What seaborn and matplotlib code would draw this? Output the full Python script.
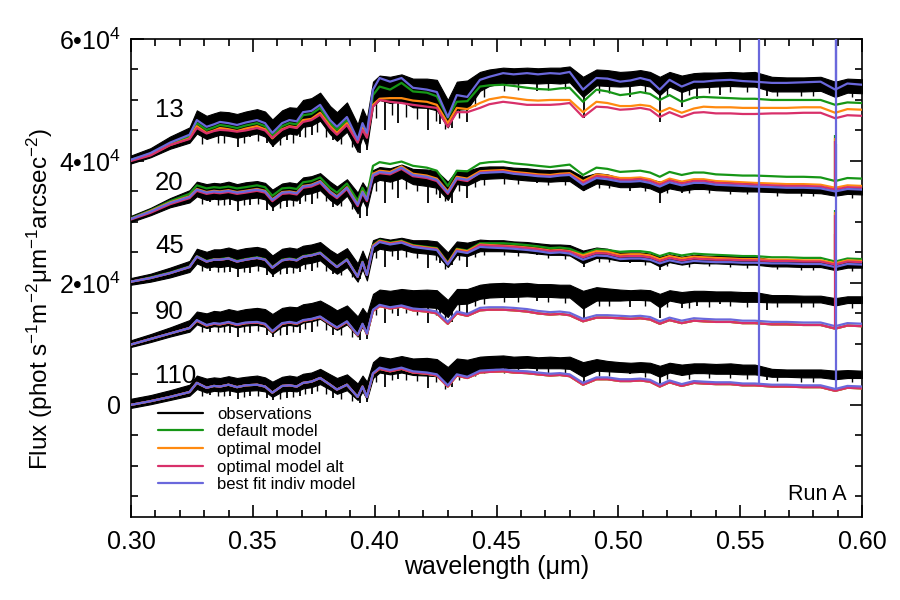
import numpy as np
import matplotlib
matplotlib.use("Agg")
import matplotlib.pyplot as plt
import seaborn as sns
from matplotlib.lines import Line2D
from matplotlib.ticker import MultipleLocator, FixedLocator, FixedFormatter

# ---------------- data (flux in units of 1e3 phot s-1 m-2 um-1 arcsec-2) ----------------
wl = [0.300, 0.308, 0.316, 0.324, 0.327, 0.331, 0.334, 0.3365, 0.340, 0.3435,
      0.347, 0.3517, 0.355, 0.358, 0.362, 0.365, 0.368, 0.3706, 0.374, 0.3776,
      0.3817, 0.3845, 0.3886, 0.393, 0.395, 0.3968, 0.3993, 0.402, 0.4063, 0.411,
      0.4157, 0.4214, 0.4255, 0.430, 0.4337, 0.438, 0.4432, 0.447, 0.4527, 0.457,
      0.4625, 0.467, 0.472, 0.476, 0.480, 0.4855, 0.491, 0.4955, 0.5007, 0.505,
      0.509, 0.513, 0.517, 0.521, 0.526, 0.531, 0.535, 0.540, 0.546, 0.551,
      0.556, 0.563, 0.569, 0.576, 0.583, 0.589, 0.594, 0.600]

# --- group 13 ---
best_13 = [40.2, 41.3, 43.0, 44.3, 46.7, 45.6, 46.0, 46.4, 46.2, 45.9, 46.3, 46.7, 46.2, 44.6, 46.2, 46.7, 46.5, 48.0, 48.2, 49.2,
           46.7, 45.6, 47.2, 43.5, 46.2, 44.6, 51.7, 53.6, 53.0, 53.6, 52.0, 51.7, 51.3, 47.2, 50.8, 50.5, 53.3, 53.8, 54.4, 54.2,
           54.4, 54.2, 54.4, 54.3, 54.6, 51.7, 53.6, 53.5, 53.0, 53.2, 53.6, 53.2, 51.7, 53.3, 52.2, 53.0, 53.0, 53.2, 53.3, 53.1,
           53.0, 52.8, 52.8, 52.9, 53.0, 51.7, 52.7, 52.5]
default_13 = [40.2, 41.2, 42.8, 44.0, 46.2, 45.1, 45.5, 45.9, 45.7, 45.4, 45.8, 46.2, 45.7, 44.1, 45.7, 46.2, 46.0, 47.5, 47.7, 48.7,
              46.2, 45.1, 46.7, 43.1, 45.7, 44.2, 50.8, 52.2, 51.7, 52.8, 51.4, 51.2, 50.6, 47.1, 49.7, 49.8, 52.2, 52.4, 52.5, 52.3,
              52.0, 51.8, 51.7, 51.9, 52.0, 49.7, 51.7, 51.4, 50.8, 51.0, 51.3, 51.0, 50.0, 50.8, 49.7, 50.4, 50.5, 50.4, 50.3, 50.2,
              50.2, 50.0, 50.0, 50.0, 50.0, 49.2, 49.6, 49.5]
optimal_13 = [40.1, 41.0, 42.6, 43.7, 45.7, 44.6, 45.0, 45.4, 45.2, 44.9, 45.3, 45.7, 45.2, 43.7, 45.2, 45.7, 45.5, 46.7, 46.9, 47.9,
              45.7, 44.6, 46.2, 43.2, 45.4, 44.0, 49.2, 50.2, 50.3, 50.3, 49.9, 49.7, 49.2, 46.2, 48.7, 48.5, 49.5, 50.1, 50.5, 50.3,
              50.0, 49.9, 50.0, 50.0, 50.0, 48.0, 49.7, 49.5, 49.0, 49.0, 49.2, 49.0, 48.0, 48.7, 47.9, 48.6, 48.9, 48.8, 48.8, 48.7,
              48.7, 48.7, 48.7, 48.8, 48.8, 47.9, 48.5, 48.4]
alt_13 = [40.0, 40.9, 42.6, 43.6, 45.4, 44.5, 44.9, 45.1, 45.0, 44.8, 45.0, 45.4, 45.0, 43.8, 45.1, 45.6, 45.4, 46.4, 46.7, 47.6,
          45.4, 44.3, 45.9, 43.0, 45.1, 43.8, 48.9, 50.0, 49.7, 49.5, 49.2, 48.9, 48.7, 45.6, 48.0, 48.0, 48.7, 49.3, 49.7, 49.5,
          49.2, 49.2, 49.2, 49.3, 49.5, 47.2, 48.9, 48.8, 48.4, 48.5, 48.7, 48.4, 47.2, 48.0, 47.2, 47.9, 48.0, 47.8, 47.8, 47.7,
          47.7, 47.8, 47.8, 47.9, 47.9, 47.0, 47.5, 47.4]
obs_hi_13 = [40.9, 42.1, 44.0, 45.5, 48.3, 47.4, 47.8, 48.1, 48.0, 47.7, 48.1, 48.5, 48.1, 46.8, 48.3, 48.8, 48.7, 50.0, 50.3, 51.2,
             49.0, 48.0, 49.6, 46.0, 48.6, 47.0, 53.0, 54.0, 53.8, 54.2, 53.5, 53.5, 53.3, 50.0, 53.0, 53.2, 54.6, 55.0, 55.3, 55.2,
             55.3, 55.2, 55.3, 55.3, 55.5, 53.8, 55.0, 54.9, 54.6, 54.7, 54.9, 54.6, 53.8, 54.6, 54.0, 54.4, 54.5, 54.5, 54.6, 54.5,
             54.6, 53.8, 53.7, 53.7, 53.8, 53.0, 53.5, 53.4]
obs_lo_13 = [39.6, 40.6, 42.0, 43.0, 44.5, 43.6, 44.0, 44.3, 44.1, 43.8, 44.1, 44.5, 44.0, 42.5, 44.0, 44.5, 44.3, 45.6, 45.8, 46.6,
             44.4, 43.3, 44.8, 41.5, 44.0, 42.3, 49.0, 50.0, 49.5, 49.8, 48.8, 48.7, 48.3, 45.5, 48.4, 48.5, 51.5, 52.3, 52.8, 52.7,
             52.8, 52.7, 52.8, 52.7, 52.9, 50.5, 52.4, 52.3, 52.2, 52.3, 52.5, 52.2, 50.8, 52.2, 51.3, 52.0, 52.1, 52.2, 52.3, 52.2,
             52.2, 51.4, 51.4, 51.4, 51.5, 50.5, 51.2, 51.1]

# --- group 20 ---
best_20 = [30.5, 31.7, 33.1, 34.1, 35.3, 34.8, 35.0, 34.9, 35.1, 34.8, 35.0, 35.3, 35.0, 33.6, 34.8, 34.9, 34.7, 35.8, 36.0, 36.6,
           34.9, 34.1, 35.6, 32.8, 34.9, 33.6, 37.7, 38.2, 38.0, 38.9, 37.7, 37.4, 36.9, 34.8, 37.2, 36.9, 38.0, 38.1, 38.2, 37.9,
           37.7, 37.5, 37.4, 37.6, 37.7, 36.1, 37.2, 37.0, 36.6, 36.6, 36.7, 36.4, 35.8, 36.5, 36.0, 36.4, 36.4, 36.1, 36.0, 35.9,
           35.8, 35.7, 35.6, 35.6, 35.5, 35.0, 35.4, 35.3]
default_20 = [30.6, 31.9, 33.4, 34.6, 36.0, 35.5, 35.7, 35.6, 35.8, 35.5, 35.7, 36.0, 35.7, 34.3, 35.5, 35.6, 35.4, 36.5, 36.7, 37.3,
              35.6, 34.8, 36.3, 33.5, 35.6, 34.3, 39.2, 39.8, 39.5, 39.9, 39.2, 38.9, 38.4, 35.9, 38.4, 38.3, 39.6, 39.8, 39.9, 39.6,
              39.4, 39.2, 39.0, 39.2, 39.4, 37.7, 38.9, 38.7, 38.2, 38.3, 38.4, 38.1, 37.4, 38.2, 37.7, 38.1, 38.1, 37.8, 37.7, 37.6,
              37.6, 37.5, 37.4, 37.4, 37.3, 36.7, 37.2, 37.1]
optimal_20 = [30.5, 31.8, 33.2, 34.2, 35.4, 34.9, 35.1, 35.0, 35.2, 34.9, 35.1, 35.4, 35.1, 33.7, 34.9, 35.0, 34.8, 35.9, 36.1, 36.7,
              35.0, 34.2, 35.7, 32.9, 35.0, 33.7, 37.9, 38.4, 38.2, 39.1, 37.9, 37.6, 37.1, 35.0, 37.4, 37.1, 38.3, 38.4, 38.5, 38.2,
              38.0, 37.8, 37.7, 37.9, 38.0, 36.7, 37.8, 37.6, 37.2, 37.2, 37.3, 37.0, 36.4, 37.1, 36.6, 37.0, 37.0, 36.7, 36.6, 36.5,
              36.4, 36.3, 36.2, 36.2, 36.1, 35.6, 36.0, 35.9]
alt_20 = [30.4, 31.5, 32.9, 33.9, 35.1, 34.6, 34.8, 34.7, 34.9, 34.6, 34.8, 35.1, 34.8, 33.4, 34.6, 34.7, 34.5, 35.6, 35.8, 36.4,
          34.7, 33.9, 35.4, 32.6, 34.7, 33.4, 37.5, 38.0, 37.8, 38.7, 37.5, 37.2, 36.7, 34.6, 37.0, 36.7, 38.1, 38.2, 38.3, 38.0,
          37.8, 37.6, 37.5, 37.7, 37.8, 36.4, 37.5, 37.3, 36.9, 36.9, 37.0, 36.7, 36.1, 36.8, 36.3, 36.7, 36.7, 36.4, 36.3, 36.2,
          36.1, 36.0, 35.9, 35.9, 35.8, 35.3, 35.7, 35.6]
obs_hi_20 = [31.0, 32.3, 33.9, 35.2, 36.6, 36.2, 36.4, 36.3, 36.6, 36.2, 36.5, 36.7, 36.4, 35.3, 36.3, 36.5, 36.3, 37.3, 37.5, 38.0,
             36.6, 35.8, 37.0, 34.8, 36.5, 35.4, 38.5, 39.0, 38.8, 39.4, 38.7, 38.6, 38.3, 36.6, 38.5, 38.4, 39.0, 39.1, 39.1, 38.9,
             38.8, 38.6, 38.5, 38.6, 38.6, 37.4, 38.0, 37.8, 37.2, 37.2, 37.2, 37.0, 36.6, 37.0, 36.7, 36.9, 36.9, 36.7, 36.6, 36.5,
             36.5, 36.0, 35.9, 35.9, 35.8, 35.4, 35.7, 35.6]
obs_lo_20 = [30.0, 31.1, 32.4, 33.2, 34.2, 33.6, 33.8, 33.7, 33.9, 33.5, 33.8, 34.0, 33.7, 32.4, 33.6, 33.7, 33.5, 34.5, 34.7, 35.2,
             33.6, 32.8, 34.3, 31.4, 33.6, 32.2, 36.4, 36.9, 36.6, 37.2, 36.2, 35.9, 35.6, 33.6, 36.2, 36.0, 37.0, 37.1, 37.2, 37.0,
             36.8, 36.7, 36.6, 36.7, 36.7, 35.2, 36.3, 36.1, 35.7, 35.7, 35.8, 35.5, 34.8, 35.5, 35.1, 35.4, 35.4, 35.2, 35.1, 35.0,
             35.0, 34.9, 34.8, 34.8, 34.7, 34.3, 34.6, 34.5]

# --- group 45 ---
best_45 = [20.2, 20.8, 21.6, 22.6, 24.3, 23.5, 23.8, 23.8, 24.0, 23.5, 23.8, 24.1, 23.8, 22.5, 23.7, 23.9, 23.7, 24.3, 24.5, 24.9,
           23.5, 22.6, 23.8, 21.0, 23.4, 21.3, 25.9, 26.7, 26.3, 26.6, 25.9, 25.6, 25.4, 23.0, 25.2, 24.9, 25.9, 25.8, 25.7, 25.6,
           25.4, 25.2, 24.9, 25.0, 24.8, 23.8, 24.5, 24.4, 23.9, 24.0, 24.0, 23.8, 23.2, 23.7, 23.3, 23.6, 23.5, 23.4, 23.4, 23.3,
           23.3, 23.2, 23.2, 23.1, 23.1, 22.6, 23.1, 23.0]
default_45 = [20.2, 20.9, 21.7, 22.7, 24.4, 23.6, 23.9, 23.9, 24.1, 23.6, 23.9, 24.2, 23.9, 22.6, 23.8, 24.0, 23.8, 24.4, 24.6, 25.0,
              23.6, 22.7, 23.9, 21.1, 23.5, 21.4, 26.2, 27.0, 26.6, 26.9, 26.2, 25.9, 25.7, 23.3, 25.6, 25.3, 26.5, 26.5, 26.5, 26.4,
              26.2, 26.0, 25.7, 25.8, 25.6, 24.7, 25.5, 25.4, 25.1, 25.2, 25.2, 25.0, 24.4, 24.9, 24.5, 24.8, 24.7, 24.6, 24.5, 24.4,
              24.4, 24.2, 24.2, 24.1, 24.1, 23.5, 24.0, 23.9]
optimal_45 = [20.2, 20.8, 21.6, 22.6, 24.3, 23.5, 23.8, 23.8, 24.0, 23.5, 23.8, 24.1, 23.8, 22.5, 23.7, 23.9, 23.7, 24.3, 24.5, 24.9,
              23.5, 22.6, 23.8, 21.0, 23.4, 21.3, 26.1, 26.9, 26.5, 26.8, 26.1, 25.8, 25.6, 23.2, 25.5, 25.2, 26.3, 26.2, 26.1, 26.0,
              25.8, 25.6, 25.3, 25.4, 25.2, 24.5, 25.2, 25.1, 24.6, 24.7, 24.7, 24.5, 23.9, 24.4, 24.0, 24.3, 24.2, 24.1, 24.0, 23.9,
              23.9, 23.8, 23.8, 23.7, 23.7, 23.2, 23.7, 23.6]
alt_45 = [20.2, 20.8, 21.6, 22.6, 24.3, 23.5, 23.8, 23.8, 24.0, 23.5, 23.8, 24.1, 23.8, 22.5, 23.7, 23.9, 23.7, 24.3, 24.5, 24.9,
          23.5, 22.6, 23.8, 21.0, 23.4, 21.3, 26.0, 26.8, 26.4, 26.7, 26.0, 25.7, 25.5, 23.1, 25.3, 25.0, 26.2, 26.1, 26.0, 25.9,
          25.7, 25.5, 25.2, 25.3, 25.1, 24.2, 24.9, 24.8, 24.3, 24.4, 24.4, 24.2, 23.6, 24.1, 23.7, 24.0, 23.9, 23.8, 23.8, 23.7,
          23.7, 23.6, 23.6, 23.5, 23.5, 23.0, 23.5, 23.4]
obs_hi_45 = [20.8, 21.5, 22.5, 23.6, 25.6, 25.1, 25.5, 25.5, 25.8, 25.4, 25.7, 25.9, 25.6, 24.5, 25.6, 25.8, 25.6, 26.1, 26.3, 26.7,
             25.4, 24.7, 25.7, 23.2, 25.3, 23.6, 27.0, 27.4, 27.1, 27.4, 27.0, 27.0, 26.8, 25.0, 26.8, 26.6, 27.1, 27.0, 27.0, 26.8,
             26.7, 26.5, 26.3, 26.3, 26.2, 25.3, 25.8, 25.6, 25.0, 25.0, 25.0, 24.8, 24.3, 24.7, 24.3, 24.6, 24.5, 24.4, 24.4, 24.3,
             24.3, 23.8, 23.7, 23.6, 23.6, 23.1, 23.5, 23.4]
obs_lo_45 = [19.7, 20.2, 20.9, 21.8, 23.2, 22.5, 22.7, 22.6, 22.8, 22.4, 22.6, 22.9, 22.6, 21.4, 22.5, 22.7, 22.5, 23.1, 23.3, 23.7,
             22.3, 21.5, 22.6, 20.2, 22.3, 20.4, 25.0, 25.6, 25.3, 25.5, 25.0, 24.8, 24.6, 22.6, 24.6, 24.4, 25.2, 25.2, 25.2, 25.1,
             25.0, 24.8, 24.6, 24.6, 24.5, 23.2, 24.1, 24.0, 23.6, 23.6, 23.6, 23.5, 22.7, 23.4, 23.0, 23.3, 23.2, 23.2, 23.1, 23.0,
             23.0, 22.7, 22.7, 22.6, 22.6, 22.1, 22.5, 22.5]

# --- group 90 (default / optimal / optimal-alt coincide) ---
best_90 = [9.9, 10.8, 11.7, 12.6, 13.9, 13.1, 13.4, 13.3, 13.6, 13.2, 13.5, 13.6, 13.3, 12.1, 13.4, 13.6, 13.4, 13.9, 14.1, 14.5,
           13.4, 12.7, 13.7, 11.5, 13.3, 11.7, 15.6, 16.4, 16.0, 16.3, 15.8, 15.6, 15.3, 13.6, 15.3, 14.9, 15.9, 16.0, 16.0, 15.9,
           15.7, 15.4, 15.2, 15.3, 15.1, 14.1, 14.7, 14.7, 14.6, 14.5, 14.6, 14.4, 13.7, 14.3, 13.8, 14.2, 14.1, 14.0, 14.0, 13.8,
           13.8, 13.6, 13.6, 13.5, 13.5, 12.9, 13.4, 13.3]
others_90 = [9.9, 10.8, 11.7, 12.6, 13.8, 13.0, 13.3, 13.2, 13.5, 13.1, 13.4, 13.5, 13.2, 12.0, 13.3, 13.5, 13.3, 13.8, 14.0, 14.4,
             13.3, 12.6, 13.6, 11.4, 13.2, 11.6, 15.4, 16.2, 15.8, 16.1, 15.5, 15.3, 15.0, 13.3, 15.0, 14.6, 15.5, 15.6, 15.6, 15.5,
             15.3, 15.0, 14.8, 14.9, 14.7, 13.7, 14.3, 14.3, 14.2, 14.1, 14.2, 14.0, 13.3, 13.9, 13.4, 13.8, 13.7, 13.6, 13.6, 13.4,
             13.4, 13.2, 13.2, 13.1, 13.1, 12.5, 13.0, 12.9]
obs_hi_90 = [10.6, 11.6, 12.7, 13.9, 15.3, 15.0, 15.4, 15.3, 15.7, 15.4, 15.7, 15.9, 15.7, 14.9, 15.9, 16.1, 16.0, 16.5, 16.7, 17.1,
             16.2, 15.5, 16.3, 14.5, 15.9, 14.9, 18.2, 18.9, 18.7, 19.0, 18.8, 18.9, 18.8, 17.2, 19.0, 19.0, 19.7, 19.9, 20.0, 19.9,
             20.0, 19.8, 19.8, 19.7, 19.7, 18.7, 19.3, 19.1, 18.9, 18.8, 18.9, 18.8, 18.2, 18.8, 18.5, 18.7, 18.7, 18.6, 18.6, 18.5,
             18.5, 18.0, 18.0, 17.9, 17.9, 17.5, 17.8, 17.8]
obs_lo_90 = [9.5, 10.3, 11.2, 12.0, 13.2, 12.6, 12.9, 12.8, 13.1, 12.7, 13.0, 13.1, 12.8, 11.7, 12.9, 13.1, 12.9, 13.5, 13.7, 14.1,
             13.0, 12.3, 13.2, 11.2, 12.9, 11.4, 15.8, 16.3, 16.0, 16.3, 15.9, 16.0, 15.9, 14.4, 16.5, 16.6, 17.4, 17.6, 17.7, 17.7,
             17.8, 17.7, 17.7, 17.6, 17.6, 15.8, 17.1, 17.1, 17.1, 17.2, 17.2, 17.1, 16.0, 17.1, 16.7, 17.0, 17.0, 17.0, 17.0, 16.9,
             16.9, 16.8, 16.8, 16.8, 16.8, 16.3, 16.7, 16.7]

# --- group 110 (default / optimal / optimal-alt coincide) ---
best_110 = [0.0, 0.6, 1.3, 2.1, 3.6, 2.8, 3.1, 3.0, 3.3, 2.9, 3.2, 3.3, 3.0, 2.0, 3.1, 3.2, 3.0, 3.6, 3.8, 4.4,
            3.3, 2.5, 3.3, 1.3, 3.0, 1.3, 5.2, 6.1, 5.7, 6.1, 5.5, 5.3, 5.0, 3.2, 5.0, 4.6, 5.6, 5.7, 5.8, 5.6,
            5.5, 5.3, 5.1, 5.2, 5.0, 3.6, 4.5, 4.5, 4.2, 4.2, 4.3, 4.1, 3.3, 4.0, 3.4, 3.9, 3.8, 3.7, 3.7, 3.5,
            3.5, 3.3, 3.3, 3.2, 3.2, 2.6, 3.1, 3.0]
others_110 = [0.0, 0.6, 1.3, 2.1, 3.6, 2.8, 3.1, 3.0, 3.3, 2.9, 3.2, 3.3, 3.0, 2.0, 3.1, 3.2, 3.0, 3.6, 3.8, 4.4,
              3.3, 2.5, 3.3, 1.3, 3.0, 1.3, 5.1, 5.9, 5.5, 5.9, 5.3, 5.1, 4.8, 3.0, 4.8, 4.4, 5.3, 5.4, 5.5, 5.3,
              5.2, 5.0, 4.8, 4.9, 4.7, 3.3, 4.2, 4.2, 3.9, 3.9, 4.0, 3.8, 3.0, 3.7, 3.1, 3.6, 3.5, 3.4, 3.4, 3.2,
              3.2, 3.0, 3.0, 2.9, 2.9, 2.3, 2.8, 2.7]
obs_hi_110 = [1.0, 1.6, 2.4, 3.3, 4.8, 4.3, 4.5, 4.4, 4.7, 4.4, 4.6, 4.8, 4.5, 3.8, 4.6, 4.8, 4.6, 5.1, 5.3, 5.9,
              5.0, 4.4, 5.0, 3.5, 4.8, 3.8, 7.0, 7.9, 7.6, 8.0, 7.6, 7.7, 7.5, 6.2, 7.6, 7.4, 7.9, 8.0, 8.1, 7.9,
              8.0, 7.8, 7.9, 7.8, 7.9, 7.0, 7.5, 7.2, 7.0, 6.9, 7.0, 6.9, 6.4, 6.9, 6.6, 6.8, 6.8, 6.7, 6.8, 6.6,
              6.6, 5.9, 5.8, 5.8, 5.8, 5.6, 5.7, 5.6]
obs_lo_110 = [-0.5, 0.1, 0.8, 1.5, 2.6, 2.0, 2.3, 2.2, 2.4, 2.1, 2.3, 2.4, 2.2, 1.3, 2.2, 2.3, 2.2, 2.7, 2.9, 3.4,
              2.5, 1.8, 2.4, 0.8, 2.2, 0.9, 4.4, 5.3, 5.0, 5.3, 4.9, 4.8, 4.7, 3.5, 4.9, 4.8, 5.6, 5.9, 6.1, 6.0,
              6.1, 6.0, 6.0, 6.0, 5.9, 4.6, 5.6, 5.5, 5.4, 5.3, 5.4, 5.3, 4.6, 5.3, 4.9, 5.2, 5.2, 5.1, 5.1, 5.0,
              5.0, 4.6, 4.6, 4.5, 4.5, 4.2, 4.4, 4.4]

# strong absorption spikes in the observations: wavelengths and spike bottoms per group
spike_wl = [0.3324, 0.3406, 0.3440, 0.3488, 0.3557, 0.3584, 0.3639, 0.3693, 0.3742, 0.3830,
            0.3940, 0.3967, 0.4042, 0.4097, 0.4220, 0.4268, 0.4316, 0.4378, 0.4665, 0.4857,
            0.5048, 0.5171, 0.5260, 0.5322, 0.5417, 0.5609]
spike_13 = [44.6, 43.9, 42.3, 43.9, 42.9, 42.3, 43.5, 43.9, 44.2, 43.5, 41.3, 41.8, 45.1, 46.3, 45.1, 46.0,
            45.4, 46.4, 51.5, 47.1, 50.5, 46.4, 48.9, 50.2, 50.8, 50.6]
spike_20 = [33.2, 32.8, 31.8, 32.8, 32.0, 31.8, 32.5, 32.9, 33.0, 32.4, 30.7, 31.0, 33.1, 34.0, 33.1, 34.0,
            33.1, 34.0, 36.4, 35.0, 35.0, 33.1, 34.8, 35.3, 35.3, 35.0]
spike_45 = [22.0, 21.8, 21.0, 21.7, 21.3, 20.9, 21.5, 21.8, 22.0, 21.4, 20.6, 20.8, 22.6, 23.7, 22.4, 23.3,
            22.9, 22.6, 24.5, 22.6, 23.2, 22.1, 22.9, 23.3, 23.4, 22.7]
spike_90 = [11.9, 11.7, 11.2, 11.7, 11.4, 11.1, 11.5, 11.8, 12.0, 11.4, 10.6, 10.8, 13.4, 14.5, 13.4, 14.4,
            13.6, 14.8, 17.0, 14.3, 16.0, 14.3, 15.8, 16.2, 16.5, 15.5]
spike_110 = [1.6, 1.4, 0.9, 1.4, 1.1, 0.8, 1.2, 1.5, 1.7, 1.1, 0.3, 0.5, 3.0, 4.2, 2.8, 4.0,
             3.0, 4.4, 5.5, 3.6, 5.0, 3.2, 4.7, 5.0, 5.2, 4.1]

# weaker absorption spikes
weak_wl = [0.3290, 0.3355, 0.3380, 0.3465, 0.3520, 0.3610, 0.3665, 0.3715, 0.3765, 0.3800,
           0.3860, 0.3905, 0.4005, 0.4070, 0.4130, 0.4175, 0.4250, 0.4290, 0.4345, 0.4410,
           0.4450, 0.4530, 0.4590, 0.4710, 0.4780, 0.4920, 0.4960, 0.5110, 0.5200, 0.5290,
           0.5370, 0.5460, 0.5530, 0.5650, 0.5750, 0.5800, 0.5960]
weak_13 = [42.8, 43.0, 42.9, 43.0, 43.2, 42.6, 43.0, 44.0, 44.8, 44.0, 42.8, 42.3, 47.0, 47.5, 47.2, 46.8,
           46.5, 45.3, 47.0, 49.0, 50.5, 51.5, 51.6, 51.7, 51.8, 51.2, 51.2, 51.2, 50.6, 50.8, 51.2, 51.3,
           51.3, 50.6, 50.7, 50.7, 50.5]
weak_20 = [33.0, 32.7, 32.7, 32.8, 32.9, 32.3, 32.6, 33.5, 34.0, 33.5, 32.6, 32.2, 35.0, 35.4, 35.4, 35.0,
           34.5, 33.4, 35.0, 35.8, 36.0, 36.3, 36.2, 36.0, 36.0, 35.6, 35.5, 35.0, 34.7, 34.7, 34.8, 34.6,
           34.5, 34.3, 34.3, 34.2, 34.0]
weak_45 = [22.0, 21.8, 21.8, 21.8, 22.0, 21.4, 21.7, 22.3, 22.6, 22.0, 21.3, 21.0, 24.0, 24.4, 24.3, 24.0,
           23.7, 22.2, 23.8, 24.2, 24.5, 24.5, 24.4, 24.0, 23.9, 23.5, 23.4, 22.9, 22.7, 22.6, 22.7, 22.6,
           22.5, 22.2, 22.1, 22.1, 22.0]
weak_90 = [12.0, 11.9, 11.9, 11.9, 12.1, 11.5, 11.9, 12.5, 12.9, 12.3, 11.5, 11.2, 14.8, 15.0, 15.0, 14.8,
           14.8, 13.8, 15.4, 16.2, 16.6, 16.8, 16.8, 16.8, 16.7, 16.2, 16.2, 16.2, 16.0, 15.9, 16.1, 16.2,
           16.1, 16.0, 16.0, 16.0, 15.9]
weak_110 = [1.4, 1.4, 1.4, 1.3, 1.5, 0.9, 1.3, 1.8, 2.2, 1.7, 0.9, 0.6, 3.8, 4.0, 4.0, 3.9,
            3.7, 2.6, 4.0, 4.8, 5.2, 5.3, 5.2, 5.2, 5.1, 4.8, 4.7, 4.5, 4.3, 4.3, 4.4, 4.4,
            4.3, 3.9, 3.8, 3.8, 3.7]

# sky emission lines in the models: wavelength, base, peak, series
sky_wl = [0.5890, 0.5890, 0.5890, 0.5890, 0.5890, 0.5890, 0.5890, 0.5893, 0.5893, 0.5893, 0.5577]
sky_base = [36.7, 35.6, 35.3, 23.5, 23.2, 23.0, 12.5, 35.0, 51.7, 2.6, 3.5]
sky_peak = [44.3, 43.8, 43.3, 32.0, 31.6, 31.2, 28.0, 42.8, 65.0, 65.0, 65.0]
sky_series = ["default model", "optimal model", "optimal model alt", "default model", "optimal model",
              "optimal model alt", "optimal model alt", "best fit indiv model", "best fit indiv model",
              "best fit indiv model", "best fit indiv model"]

group_labels = ["13", "20", "45", "90", "110"]
group_label_y = [48.4, 36.4, 26.1, 15.3, 4.8]

series_names = ["observations", "default model", "optimal model", "optimal model alt", "best fit indiv model"]
series_colors = ["#000000", "#169616", "#ff8a10", "#d8306a", "#6a68dc"]

# ---------------- assemble ----------------
groups = [
    dict(obs_hi=obs_hi_13, obs_lo=obs_lo_13, spikes=spike_13, weak=weak_13,
         models=[default_13, optimal_13, alt_13, best_13]),
    dict(obs_hi=obs_hi_20, obs_lo=obs_lo_20, spikes=spike_20, weak=weak_20,
         models=[default_20, optimal_20, alt_20, best_20]),
    dict(obs_hi=obs_hi_45, obs_lo=obs_lo_45, spikes=spike_45, weak=weak_45,
         models=[default_45, optimal_45, alt_45, best_45]),
    dict(obs_hi=obs_hi_90, obs_lo=obs_lo_90, spikes=spike_90, weak=weak_90,
         models=[others_90, others_90, others_90, best_90]),
    dict(obs_hi=obs_hi_110, obs_lo=obs_lo_110, spikes=spike_110, weak=weak_110,
         models=[others_110, others_110, others_110, best_110]),
]
n = len(wl)
for gi, g in enumerate(groups):
    for key in ("obs_hi", "obs_lo"):
        assert len(g[key]) == n, (gi, key, len(g[key]))
    for mi, m in enumerate(g["models"]):
        assert len(m) == n, (gi, mi, len(m))
    assert len(g["spikes"]) == len(spike_wl), (gi, "spikes", len(g["spikes"]))
    assert len(g["weak"]) == len(weak_wl), (gi, "weak", len(g["weak"]))

K = 1e3
wl_a = np.array(wl)

# ---------------- style ----------------
sns.set_theme(style="ticks")
plt.rcParams["font.family"] = ["Liberation Sans", "DejaVu Sans"]
plt.rcParams["mathtext.fontset"] = "custom"
plt.rcParams["mathtext.rm"] = "Liberation Sans"
plt.rcParams["mathtext.it"] = "Liberation Sans:italic"
plt.rcParams["mathtext.bf"] = "Liberation Sans:bold"
plt.rcParams["axes.edgecolor"] = "black"
plt.rcParams["xtick.color"] = "black"
plt.rcParams["ytick.color"] = "black"
plt.rcParams["text.color"] = "black"
plt.rcParams["axes.labelcolor"] = "black"

fig = plt.figure(figsize=(9, 6), dpi=100)
ax = fig.add_axes([0.1456, 0.1383, 0.8122, 0.7967])

# observations: dense band + absorption spikes
for g in groups:
    hi = np.array(g["obs_hi"]) * K
    lo = np.array(g["obs_lo"]) * K
    ax.fill_between(wl_a, lo, hi, color="black", lw=0.8, zorder=2)
    tops = np.interp(spike_wl, wl_a, np.array(g["obs_lo"])) * K + 300
    ax.vlines(spike_wl, np.array(g["spikes"]) * K, tops, color="black", lw=1.3, zorder=2)
    tops_w = np.interp(weak_wl, wl_a, np.array(g["obs_lo"])) * K + 300
    ax.vlines(weak_wl, np.array(g["weak"]) * K, tops_w, color="black", lw=1.0, zorder=2)

# models
for mi in range(4):
    for g in groups:
        sns.lineplot(x=wl_a, y=np.array(g["models"][mi]) * K, ax=ax, color=series_colors[mi + 1],
                     lw=1.6, estimator=None, sort=False, legend=False, zorder=3 + mi)

# sky emission lines
for w, b, p, s in zip(sky_wl, sky_base, sky_peak, sky_series):
    c = series_colors[series_names.index(s)]
    z = 3 + series_names.index(s)
    ax.vlines([w], [b * K], [p * K], color=c, lw=1.6, zorder=z)

# group labels
for lab, yv in zip(group_labels, group_label_y):
    ax.text(0.3099, yv * K, lab, fontsize=18.5, ha="left", va="center", zorder=10)

ax.text(0.9795, 0.048, "Run A", transform=ax.transAxes, fontsize=15.5, ha="right", va="center")

# axes
ax.set_xlim(0.30, 0.60)
ax.set_ylim(-18400, 60000)
ax.xaxis.set_major_locator(MultipleLocator(0.05))
ax.xaxis.set_minor_locator(MultipleLocator(0.01))
ax.xaxis.set_major_formatter(matplotlib.ticker.FormatStrFormatter("%.2f"))
ax.yaxis.set_major_locator(FixedLocator([0, 20000, 40000, 60000]))
ax.yaxis.set_major_formatter(FixedFormatter(["0", "2•10$^4$", "4•10$^4$", "6•10$^4$"]))
ax.yaxis.set_minor_locator(MultipleLocator(5000))
ax.tick_params(which="both", direction="in", top=True, right=True, width=1.2, labelsize=18)
ax.tick_params(which="major", length=9)
ax.tick_params(axis="x", which="major", pad=9)
ax.tick_params(axis="y", which="major", pad=7)
ax.tick_params(which="minor", length=5)
for sp in ax.spines.values():
    sp.set_linewidth(1.2)
    sp.set_color("black")

ax.set_xlabel("wavelength (μm)", fontsize=18, labelpad=1)
ax.set_ylabel("Flux (phot s$^{-1}$m$^{-2}$μm$^{-1}$arcsec$^{-2}$)", fontsize=17.5)
ax.yaxis.label.set_va("center")
ax.yaxis.set_label_coords(-0.1245, 0.456)

handles = [Line2D([0], [0], color=c, lw=1.6) for c in series_colors]
ax.legend(handles, series_names, loc="upper left", bbox_to_anchor=(0.037, 0.231),
          frameon=False, fontsize=12, handlelength=2.7, handletextpad=0.85,
          labelspacing=0.16, borderpad=0.0, borderaxespad=0.0)

fig.savefig("out.png", dpi=100)
